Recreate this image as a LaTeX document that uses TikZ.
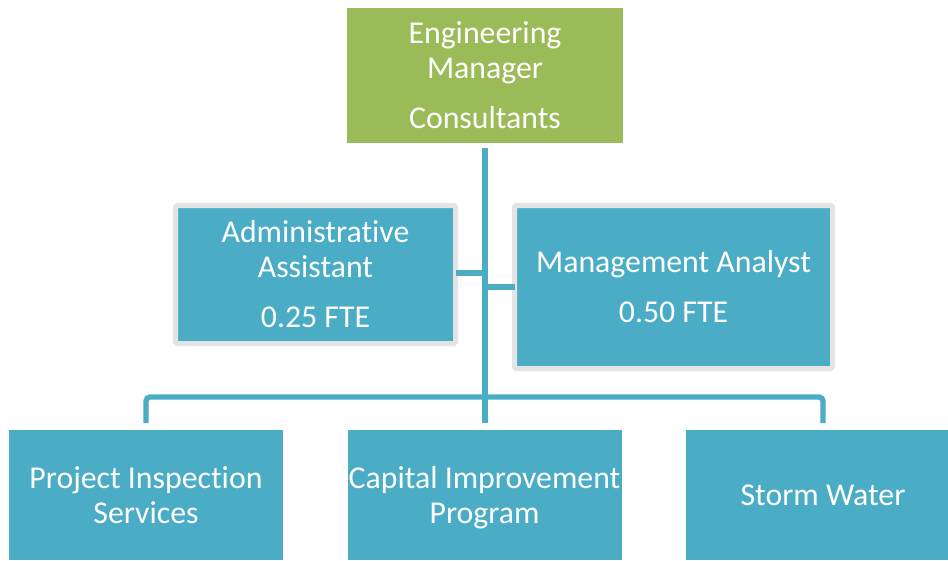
\documentclass[tikz,border=0pt]{standalone}
\usepackage{fontspec}
\setmainfont[Ligatures=NoCommon]{Carlito}
\definecolor{boxblue}{HTML}{4BACC6}
\definecolor{boxgreen}{HTML}{9BBB59}
\definecolor{frame}{HTML}{E4E4E4}
\tikzset{
  base/.style={rectangle, inner sep=0pt, outer sep=0pt, text=white, align=center,
    font=\fontsize{23.85pt}{26.25pt}\selectfont},
  greenbox/.style={base, fill=boxgreen},
  bluebox/.style={base, fill=boxblue},
  framedbox/.style={base, fill=boxblue, draw=frame, line width=3.75pt, rounded corners=1.2pt},
  conn/.style={draw=boxblue, line width=4pt},
}
\begin{document}
\begin{tikzpicture}[x=0.75pt, y=-0.75pt]
\clip (0,0) rectangle (948,560);
\fill[white] (0,0) rectangle (948,560);
\node[greenbox, minimum width=207pt, minimum height=101.25pt] (eng) at (485,75.5)
  {Engineering\\Manager\\[11.25pt]Consultants};
\node[framedbox, minimum width=210pt, minimum height=103.5pt] (adm) at (315.5,274.5)
  {Administrative\\Assistant\\[11.25pt]0.25 FTE};
\node[framedbox, minimum width=238.5pt, minimum height=122.25pt] (ana) at (673.5,287)
  {Management Analyst\\[11.25pt]0.50 FTE};
\node[bluebox, minimum width=205.5pt, minimum height=97.5pt] (pis) at (146,495)
  {Project Inspection\\Services};
\node[bluebox, minimum width=205.5pt, minimum height=97.5pt] (cip) at (484.5,495)
  {Capital Improvement\\\raisebox{0pt}[\height][0pt]{Program}};
\node[bluebox, minimum width=205.5pt, minimum height=97.5pt] (sw) at (823,495)
  {Storm Water};
\coordinate (bar) at (485,397);
\draw[conn, shorten <=3.75pt, shorten >=5.25pt] (eng.south) -- (eng.south |- cip.north);
\draw[conn, rounded corners=3pt, shorten <=5.25pt, shorten >=5.25pt]
  (pis.north) |- (bar) -| (sw.north);
\draw[conn] ([yshift=1.1pt]adm.east) -- ([yshift=1.1pt]adm.east -| eng.south);
\draw[conn] (ana.west) -- (ana.west -| eng.south);
\end{tikzpicture}
\end{document}
